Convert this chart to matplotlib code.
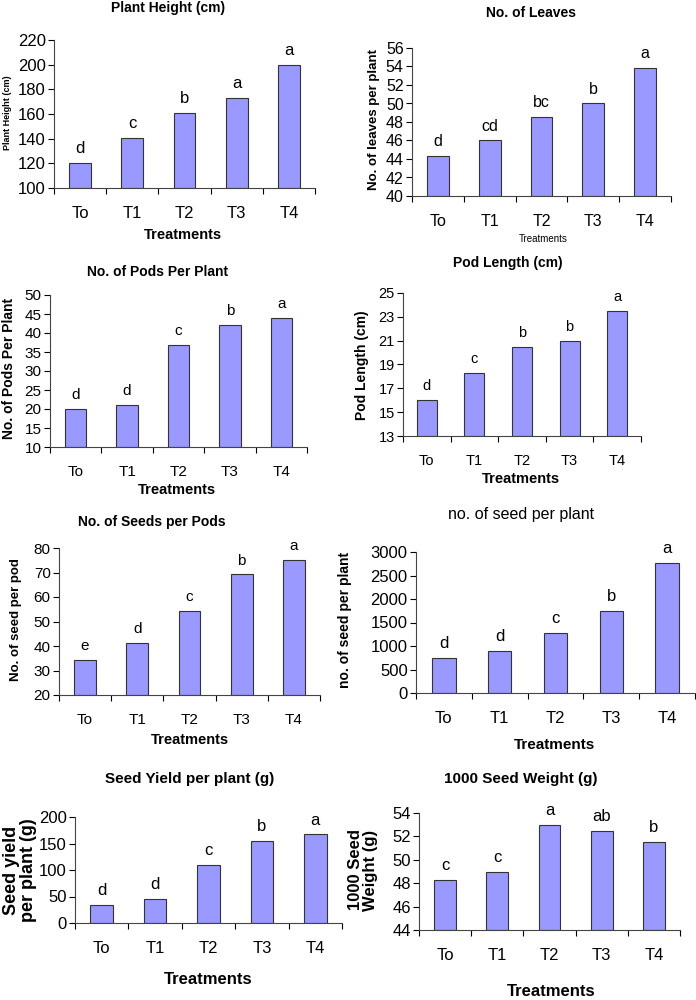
import matplotlib
matplotlib.use("Agg")
import matplotlib.pyplot as plt

plt.rcParams['font.family'] = ['Liberation Sans', 'DejaVu Sans']

treatments = ["To", "T1", "T2", "T3", "T4"]

# values
plant_height = [120, 140.5, 161, 173, 199.5]
plant_height_sig = ["d", "c", "b", "a", "a"]

leaves = [44.3, 46.0, 48.5, 50.0, 53.8]
leaves_sig = ["d", "cd", "bc", "b", "a"]

pods = [20, 21, 36.8, 42, 44]
pods_sig = ["d", "d", "c", "b", "a"]

pod_length = [16.0, 18.25, 20.5, 21.0, 23.5]
pod_length_sig = ["d", "c", "b", "b", "a"]

seeds_pod = [34.3, 41.2, 54.2, 69.2, 75.0]
seeds_pod_sig = ["e", "d", "c", "b", "a"]

seeds_plant = [740, 900, 1270, 1750, 2770]
seeds_plant_sig = ["d", "d", "c", "b", "a"]

seed_yield = [34, 45, 109, 155, 167]
seed_yield_sig = ["d", "d", "c", "b", "a"]

seed_weight = [48.3, 49.0, 53.0, 52.5, 51.5]
seed_weight_sig = ["c", "c", "a", "ab", "b"]

W, H = 696, 1000
fig = plt.figure(figsize=(W / 100, H / 100), dpi=100)

BAR = "#9999ff"


def panel(box, vals, sig, ylim, step, title, tpos, ylab, ypos, xlab, xpos,
          ylab_size=9.5, title_bold=True, title_size=10, xlab_size=10.5,
          xlab_bold=True, fs=10.5, fam=None):
    l, r, t, b = box
    ax = fig.add_axes([l / W, 1 - b / H, (r - l) / W, (b - t) / H])
    x = range(len(vals))
    ax.bar(x, [v - ylim[0] for v in vals], bottom=ylim[0], width=0.42,
           color=BAR, edgecolor="#333333", linewidth=0.8)
    for i, v in enumerate(vals):
        ax.annotate(sig[i], (i, v), xytext=(0, 5), textcoords="offset points",
                    ha="center", va="bottom", fontsize=fs, family=fam)
    ax.set_xlim(-0.5, len(vals) - 0.5)
    ax.set_ylim(ylim)
    ticks = []
    y = ylim[0]
    while y <= ylim[1] + 1e-9:
        ticks.append(y)
        y += step
    ax.set_yticks(ticks)
    ax.set_xticks(list(x))
    ax.set_xticklabels(treatments)
    ax.set_xticks([i - 0.5 for i in range(len(vals) + 1)], minor=True)
    ax.tick_params(axis="x", which="major", length=0, pad=13, labelsize=fs)
    ax.tick_params(axis="x", which="minor", length=4, width=0.8)
    ax.tick_params(axis="y", length=4, width=0.8, labelsize=fs, pad=2)
    for lab in ax.get_xticklabels() + ax.get_yticklabels():
        if fam:
            lab.set_family(fam)
    ax.spines["top"].set_visible(False)
    ax.spines["right"].set_visible(False)
    ax.spines["left"].set_color("#444444")
    ax.spines["bottom"].set_color("#444444")
    fig.text(tpos[0] / W, 1 - tpos[1] / H, title, ha="center", va="center",
             fontsize=title_size,
             fontweight="bold" if title_bold else "normal", family=fam)
    fig.text(ypos[0] / W, 1 - ypos[1] / H, ylab, ha="center", va="center",
             rotation=90, fontsize=ylab_size, fontweight="bold",
             family=fam, linespacing=1.0)
    fig.text(xpos[0] / W, 1 - xpos[1] / H, xlab, ha="center", va="center",
             fontsize=xlab_size, fontweight="bold" if xlab_bold else "normal",
             family=fam)
    return ax


panel((54, 315, 40, 188), plant_height, plant_height_sig, (100, 220), 20,
      "Plant Height (cm)", (168, 8), "Plant Height (cm)", (8, 113),
      "Treatments", (183, 235), ylab_size=6.5, fs=12)

panel((412, 671, 48, 196), leaves, leaves_sig, (40, 56), 2,
      "No. of Leaves", (531, 13), "No. of leaves per plant", (374, 120),
      "Treatments", (543, 239), ylab_size=9.5, xlab_size=7, xlab_bold=False,
      fs=11.5)

panel((50, 307, 295, 447), pods, pods_sig, (10, 50), 5,
      "No. of Pods Per Plant", (158, 272), "No. of Pods Per Plant", (9, 368),
      "Treatments", (177, 490), ylab_size=10, fs=11)

panel((403, 641, 293, 436), pod_length, pod_length_sig, (13, 25), 2,
      "Pod Length (cm)", (508, 263), "Pod Length (cm)", (362, 365),
      "Treatments", (521, 479), ylab_size=10, fs=10.5)

panel((59, 320, 548, 695), seeds_pod, seeds_pod_sig, (20, 80), 10,
      "No. of Seeds per Pods", (152, 522), "No. of seed per pod", (16, 620),
      "Treatments", (190, 740), ylab_size=9.5, fs=11)

panel((416, 695, 552, 693), seeds_plant, seeds_plant_sig, (0, 3000), 500,
      "no. of seed per plant", (521, 514), "no. of seed per plant", (345, 620),
      "Treatments", (555, 745), title_bold=False, title_size=11.5,
      xlab_size=11, fs=12, ylab_size=10)

panel((75, 342, 817, 923), seed_yield, seed_yield_sig, (0, 200), 50,
      "Seed Yield per plant (g)", (190, 779), "Seed yield\nper plant (g)",
      (20, 870), "Treatments", (208, 980), ylab_size=13, xlab_size=12,
      title_size=11, fs=12)

panel((419, 680, 813, 930), seed_weight, seed_weight_sig, (44, 54), 2,
      "1000 Seed Weight (g)", (521, 779), "1000 Seed\nWeight (g)", (363, 870),
      "Treatments", (551, 992), ylab_size=12, xlab_size=12, title_size=11,
      fs=12, fam=["Liberation Sans Narrow", "Liberation Sans", "DejaVu Sans"])

fig.savefig("out.png", dpi=100)
